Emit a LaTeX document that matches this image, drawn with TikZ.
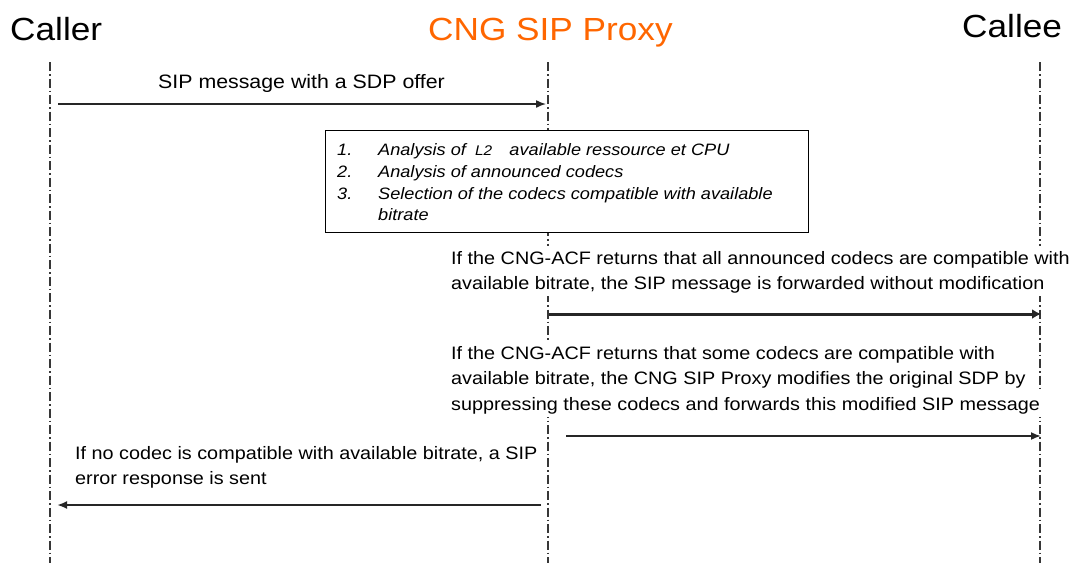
\documentclass[tikz,border=0pt]{standalone}
\usepackage{fontspec}
\setmainfont{Liberation Sans}[FakeStretch=1.1]
\usetikzlibrary{arrows.meta}
\definecolor{cngorange}{RGB}{255,102,0}
\definecolor{lifegray}{RGB}{55,55,55}
\tikzset{
 lifeline/.style={lifegray, line width=1.2pt, dash pattern=on 9pt off 3pt on 1.5pt off 3pt},
 title/.style={anchor=base west, inner sep=0pt, font=\fontsize{32}{38}\selectfont},
 txt/.style={anchor=base west, inner xsep=1pt, inner ysep=0pt, text height=18.5pt, text depth=6.5pt, fill=white, font=\fontsize{18}{25}\selectfont},
 boxtxt/.style={anchor=base west, inner sep=0pt, font=\fontsize{16.5}{22}\selectfont\itshape},
 msg/.style={-{Latex[length=10pt,width=8pt]}, black!85},
}
\begin{document}
\begin{tikzpicture}[x=1pt,y=-1pt]
\useasboundingbox (0,0) rectangle (1076,563);
% lifelines
\coordinate (cT) at (50,62);  \coordinate (cB) at (50,563);
\coordinate (pT) at (548,62); \coordinate (pB) at (548,563);
\coordinate (eT) at (1040,62); \coordinate (eB) at (1040,563);
\draw[lifeline] (cT) -- (cB);
\draw[lifeline] (pT) -- (pB);
\draw[lifeline] (eT) -- (eB);
% titles
\node[title] (caller) at (10,40) {Caller};
\node[title, text=cngorange] (proxy) at (428,40) {CNG SIP Proxy};
\node[title] (callee) at (962,37) {Callee};
% message 1
\node[anchor=base west, inner sep=0pt, font=\fontsize{19.4}{24}\selectfont] (m1) at (158,88) {SIP message with a SDP offer};
% processing box
\node[draw, fill=white, line width=0.9pt, minimum width=483pt, minimum height=102pt, inner sep=0pt] (box) at (566.5,181) {};
\node[boxtxt] (n1) at (337,155) {1.};
\node[boxtxt] (n2) at (337,177) {2.};
\node[boxtxt] (n3) at (337,199) {3.};
\node[boxtxt] (t1) at (378,155) {Analysis of\hspace{0.55em}{\fontsize{14}{16}\selectfont L2}\hspace{1.05em}available ressource et CPU};
\node[boxtxt] (t2) at (378,177) {Analysis of announced codecs};
\node[boxtxt] (t3) at (378,199) {Selection of the codecs compatible with available};
\node[boxtxt] (t4) at (378,220) {bitrate};
% paragraphs
\node[txt] (p1a) at (450,264) {If the CNG-ACF returns that all announced codecs are compatible with};
\node[txt] (p1b) at (450,289) {available bitrate, the SIP message is forwarded without modification};
\node[txt] (p2a) at (450,359) {If the CNG-ACF returns that some codecs are compatible with};
\node[txt] (p2b) at (450,384) {available bitrate, the CNG SIP Proxy modifies the original SDP by};
\node[txt] (p2c) at (450,410) {suppressing these codecs and forwards this modified SIP message};
\node[txt] (p3a) at (74,459) {If no codec is compatible with available bitrate, a SIP};
\node[txt] (p3b) at (74,484) {error response is sent};
% arrows
\coordinate (a1s) at (58,104);  \coordinate (a1e) at (546,104);
\coordinate (a2s) at (549,314); \coordinate (a2e) at (1041,314);
\coordinate (a3s) at (566,436); \coordinate (a3e) at (1041,436);
\coordinate (a4s) at (541,505); \coordinate (a4e) at (57,505);
\draw[msg, line width=1.5pt] (a1s) -- (a1e);
\draw[msg, line width=3pt, -{Latex[length=9pt,width=10pt]}] (a2s) -- (a2e);
\draw[msg, line width=1.7pt] (a3s) -- (a3e);
\draw[msg, line width=2pt] (a4s) -- (a4e);
\end{tikzpicture}
\end{document}
